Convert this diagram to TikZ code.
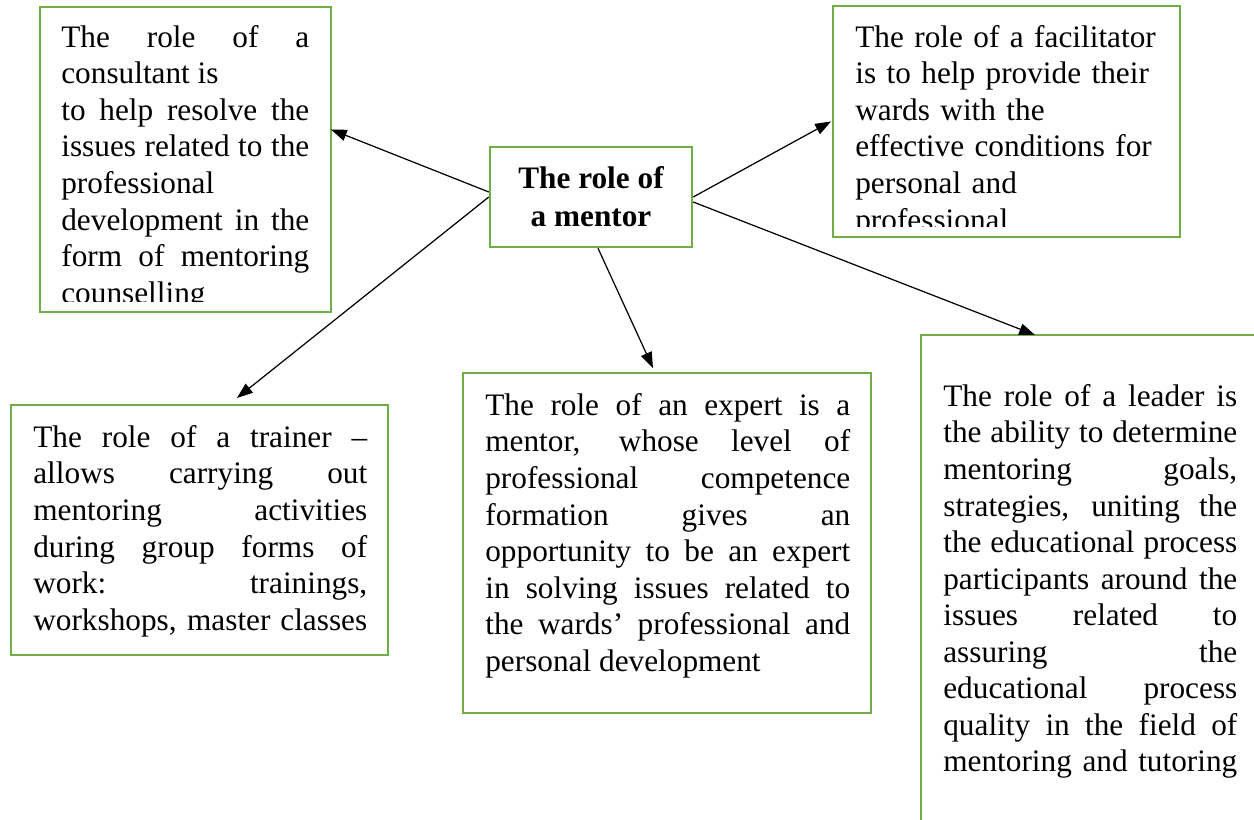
\documentclass[tikz,border=0pt]{standalone}
\usepackage{fontspec}
\setmainfont{Liberation Serif}
\usetikzlibrary{arrows.meta}

\definecolor{boxgreen}{HTML}{70AD47}
\newcommand{\fullpar}{{\parfillskip=0pt\par}}

\tikzset{
  rolebox/.style={draw=boxgreen, line width=1.4pt, inner sep=0pt, outer sep=0pt, anchor=north west},
  roletext/.style={anchor=north west, inner sep=0pt, align=justify, text width=#1,
    execute at begin node={\hyphenpenalty=10000\tolerance=10000\emergencystretch=0pt},
    font=\fontsize{17.8pt}{20.8pt}\selectfont},
  rolearrow/.style={-{Triangle[length=9pt,width=6.5pt]}, line width=0.7pt}
}

\begin{document}
\begin{tikzpicture}[x=0.02cm,y=-0.02cm]
        \useasboundingbox (0,0) rectangle (1254,820);
        \clip (0,0) rectangle (1254,820);

        \begin{scope}[every node/.style={rolebox}]
          \node[minimum width=5.82cm, minimum height=6.1cm]  (consultant)  at (40,7)    {};
          \node[minimum width=6.94cm, minimum height=4.62cm] (facilitator) at (833,6)   {};
          \node[minimum width=7.54cm, minimum height=5cm]    (trainer)     at (11,405)  {};
          \node[minimum width=8.16cm, minimum height=6.8cm]  (expert)      at (463,373) {};
          \node[minimum width=6.76cm, minimum height=9.8cm]  (leader)      at (921,335) {};
        \end{scope}

        \node[draw=boxgreen, line width=1.4pt, minimum width=4.04cm, minimum height=2cm,
              align=center, font=\fontsize{17.8pt}{21.6pt}\selectfont\bfseries]
              (mentor) at (591,197) {The role of\\a mentor};

        % texts that overflow their boxes are cut off
        \begin{scope}
          \clip (consultant.north west) rectangle ([yshift=0.2cm]consultant.south east);
          \node[roletext=4.96cm] (consultanttext) at (61,25) {%
            The role of a\linebreak
            consultant is\\
            to help resolve the\linebreak
            issues related to the\linebreak
            professional\\
            development in the\linebreak
            form of mentoring\linebreak
            counselling};
        \end{scope}

        \begin{scope}
          \clip (facilitator.north west) rectangle ([yshift=0.2cm]facilitator.south east);
          \node[roletext=6.4cm, align=left] (facilitatortext) at (855,25) {%
            The role of a facilitator\\
            is to help provide their\\
            wards with the\\
            effective conditions for\\
            personal and\\
            professional};
        \end{scope}

        \node[roletext=6.68cm] (trainertext) at (33,425) {%
          The role of a trainer \textendash\linebreak
          allows carrying out\linebreak
          mentoring activities\linebreak
          during group forms of\linebreak
          work: trainings,\linebreak
          workshops, master classes\fullpar};

        \node[roletext=7.3cm] (experttext) at (485,393) {%
          The role of an expert is a\linebreak
          mentor, whose level of\linebreak
          professional competence\linebreak
          formation gives an\linebreak
          opportunity to be an expert\linebreak
          in solving issues related to\linebreak
          the wards’ professional and\linebreak
          personal development};

        \node[roletext=5.88cm] (leadertext) at (943,384) {%
          The role of a leader is\linebreak
          the ability to determine\linebreak
          mentoring goals,\linebreak
          strategies, uniting the\linebreak
          the educational process\linebreak
          participants around the\linebreak
          issues related to\linebreak
          assuring the\linebreak
          educational process\linebreak
          quality in the field of\linebreak
          mentoring and tutoring\fullpar};

        \draw[rolearrow] ([yshift=0.1cm]mentor.west) -- ([yshift=0.6cm]consultant.east);
        \draw[rolearrow] (mentor.west) -- ([xshift=0.75cm,yshift=0.14cm]trainer.north);
        \draw[rolearrow] ([xshift=0.14cm]mentor.south) -- ([xshift=-0.28cm,yshift=0.1cm]expert.north);
        \draw[rolearrow] (mentor.east) -- ([xshift=-0.04cm]facilitator.west);
        \draw[rolearrow] ([yshift=-0.1cm]mentor.east) -- ([xshift=2.28cm]leader.north west);

      \end{tikzpicture}
\end{document}
